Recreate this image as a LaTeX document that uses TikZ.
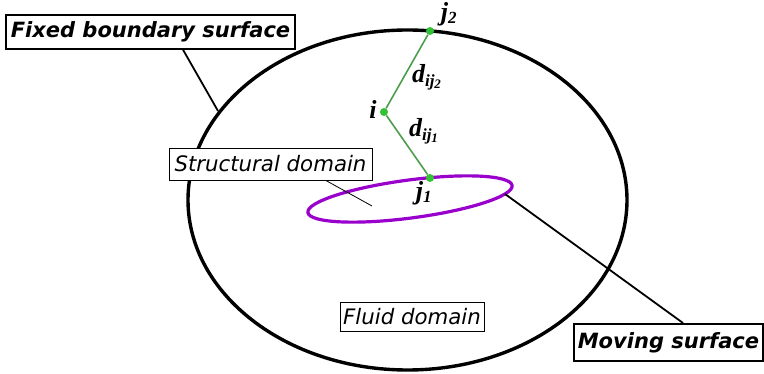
\documentclass[tikz,border=0pt]{standalone}
\usepackage{fontspec}
\setmainfont{DejaVu Sans}
\newfontfamily\tnr{Liberation Serif}
\begin{document}
\begin{tikzpicture}[x=1pt,y=-1pt,
  callout/.style={draw=black,line width=2.2pt,fill=white,inner sep=3pt,font=\fontsize{21}{24}\selectfont\bfseries\itshape},
  dombox/.style={draw=black,line width=0.7pt,fill=white,inner sep=3pt,font=\fontsize{21.3}{24}\selectfont\itshape},
  lead/.style={line width=1.8pt},
  pt/.style={circle,fill=green!70!black!80,inner sep=0pt,minimum size=8pt},
  conn/.style={draw=green!45!black!70,line width=1.6pt},
  lab/.style={font=\tnr\fontsize{26}{30}\selectfont\bfseries\itshape,inner sep=0pt}]
\useasboundingbox (0,0) rectangle (764,374);
% fixed boundary
\draw[line width=3.4pt] (407.5,200) ellipse [x radius=219.5, y radius=170];
% structural domain ellipse
\draw[line width=3.2pt,draw={rgb,255:red,153;green,0;blue,204}] (410,199) ellipse [x radius=103, y radius=19, rotate=7.5];
% points
\node[pt] (j2) at (430,31) {};
\node[pt] (i) at (384,112) {};
\node[pt] (j1) at (430,178) {};
\draw[conn] (j2) -- (i) -- (j1);
\node[lab] (lj2) at (449,14) {j\textsubscript{\fontsize{17}{18}\selectfont 2}};
\node[lab] (li) at (373,109) {i};
\node[lab] (ldij2) at (427,77) {d\textsubscript{\fontsize{17}{18}\selectfont ij\textsubscript{\fontsize{13}{14}\selectfont 2}}};
\node[lab] (ldij1) at (424,131) {d\textsubscript{\fontsize{17}{18}\selectfont ij\textsubscript{\fontsize{13}{14}\selectfont 1}}};
\node[lab] (lj1) at (424,193) {j\textsubscript{\fontsize{17}{18}\selectfont 1}};
% callouts
\coordinate (fbtip) at (218,111);
\coordinate (fbbase) at (182,48);
\draw[lead] (fbbase) -- (fbtip);
\node[callout,minimum width=289pt,minimum height=34pt] (fb) at (150.5,32) {Fixed boundary surface};
\coordinate (mstip) at (505,194);
\coordinate (msbase) at (683,323);
\draw[lead] (msbase) -- (mstip);
\node[callout,minimum width=189pt,minimum height=37pt] (ms) at (668.5,342.5) {Moving surface};
\coordinate (sdtip) at (372,206);
\coordinate (sdbase) at (325,180);
\draw[line width=0.8pt] (sdbase) -- (sdtip);
\node[dombox,minimum width=203pt,minimum height=32pt] (sd) at (270.5,164) {Structural domain};
\node[dombox,minimum width=144pt,minimum height=29pt] (fd) at (412,316.5) {Fluid domain};
\end{tikzpicture}
\end{document}
